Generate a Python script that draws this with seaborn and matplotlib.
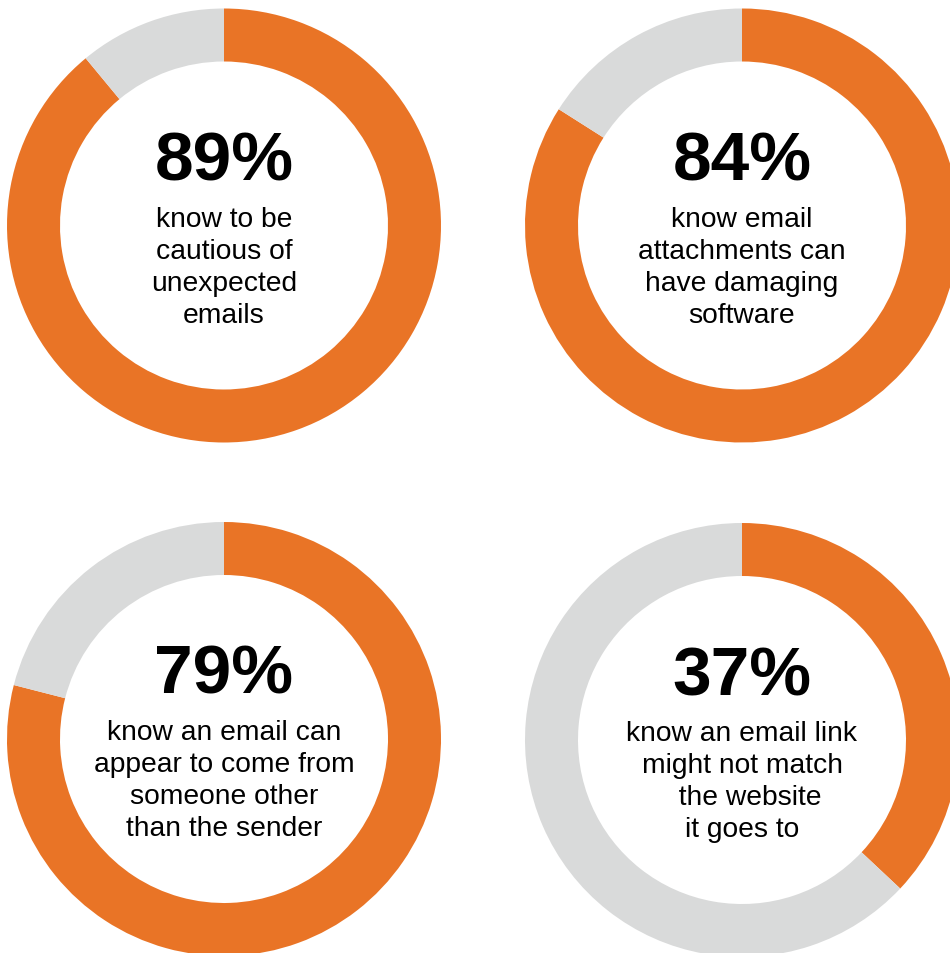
import matplotlib
matplotlib.use("Agg")
import matplotlib.pyplot as plt
import seaborn as sns

# ---- data ----
percentages = [89, 84, 79, 37]
value_labels = ["89%", "84%", "79%", "37%"]
descriptions = [
    ["know to be", "cautious of", "unexpected", "emails"],
    ["know email", "attachments can", "have damaging", "software"],
    ["know an email can", "appear to come from", "someone other", "than the sender"],
    ["know an email link", "might not match", "  the website", "it goes to"],
]

# ---- style ----
sns.set_theme(style="white")
plt.rcParams["font.family"] = ["Liberation Sans", "DejaVu Sans"]
palette = sns.color_palette(["#E97426", "#D9DADA"])
ORANGE, GREY = palette[0], palette[1]

W, H = 950, 954
fig = plt.figure(figsize=(W / 100, H / 100), dpi=100)
fig.patch.set_facecolor("white")

centers = [(224, 226.5), (742, 226.5), (224, 740), (742, 741)]
R = 217.0      # outer radius in px
RING = 53.0    # ring width in px
PAD = 1.02

for (cx, cy), pct, vlab, desc in zip(centers, percentages, value_labels, descriptions):
    h = R * PAD
    ax = fig.add_axes([(cx - h) / W, (H - cy - h) / H, 2 * h / W, 2 * h / H])
    wedges, _ = ax.pie([pct, 100 - pct], colors=[ORANGE, GREY], startangle=90,
                       counterclock=False, radius=1.0,
                       wedgeprops=dict(width=RING / R, linewidth=0, antialiased=True))
    ax.set_xlim(-PAD, PAD)
    ax.set_ylim(-PAD, PAD)
    ax.set_aspect("equal")
    ax.axis("off")
    for w in wedges:
        w.set_clip_on(False)
    # big number (baseline ~46px above centre)
    ax.text(0, 46 / R, vlab, ha="center", va="baseline", fontsize=50,
            fontweight="bold", color="black")
    # description lines
    for i, line in enumerate(desc):
        dy = 0.5 + i * 31.9
        ax.text(0, -dy / R, line, ha="center", va="baseline", fontsize=20.3,
                color="black")

fig.savefig("out.png", dpi=100, facecolor="white")
